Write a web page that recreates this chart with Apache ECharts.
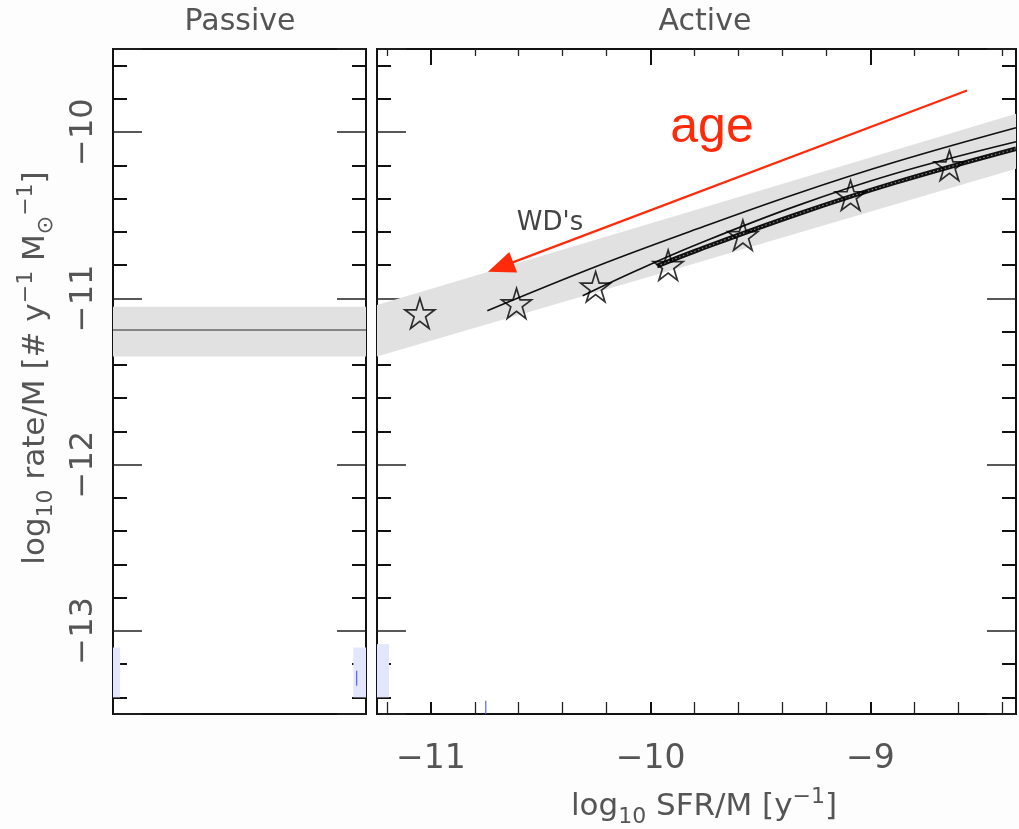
<!DOCTYPE html>
<html>
<head>
<meta charset="utf-8">
<script src="https://cdn.jsdelivr.net/npm/echarts@6/dist/echarts.min.js"></script>
<style>
  html, body { margin: 0; padding: 0; background: #fdfdfd; }
  #chart { width: 1019px; height: 829px; }
</style>
</head>
<body>
<div id="chart"></div>
<script>
// ---------------- data ----------------
const panelTitles = ['Passive', 'Active'];
const xTickValues = [-11, -10, -9];
const yTickValues = [-13, -12, -11, -10];

// passive galaxies: constant rate per unit mass with its spread
const passiveRate = -11.19;
const passiveLow = -11.35;
const passiveHigh = -11.05;

// active galaxies: shaded spread of the relation
const bandX    = [-11.245, -9.8, -8.337];
const bandLow  = [-11.35, -10.79, -10.22];
const bandHigh = [-11.04, -10.47, -9.89];

// star markers
const starX = [-11.05, -10.61, -10.25, -9.92, -9.58, -9.09, -8.64];
const starY = [-11.09, -11.03, -10.93, -10.80, -10.62, -10.38, -10.20];

// model tracks
const curveAX = [-10.743, -10.242, -9.790, -9.339, -8.887, -8.337];
const curveAY = [-11.074, -10.805, -10.583, -10.372, -10.180, -9.974];
const curveBX = [-10.309, -10.061, -9.790, -9.339, -8.887, -8.337];
const curveBY = [-10.984, -10.831, -10.676, -10.445, -10.249, -10.058];
const curveCX = [-9.971, -9.790, -9.339, -8.887, -8.337];
const curveCY = [-10.806, -10.712, -10.497, -10.304, -10.100];

// "age" arrow, tail -> head
const arrowFrom = [-8.56, -9.75];
const arrowTo   = [-10.74, -10.84];

// faint blue patches near the bottom of both panels [x0, x1, y0, y1]
const passivePatches = [[0, 0.028, -13.40, -13.10], [0.95, 1, -13.40, -13.10]];
const activePatches  = [[-11.245, -11.19, -13.40, -13.08]];
// short blue marks [x, y0, y1]
const passiveBlueMarks = [[0.963, -13.33, -13.24]];
const activeBlueMarks  = [[-10.75, -13.5, -13.42]];

// ---------------- helpers ----------------
const FONT = 'DejaVu Sans';
const TXT = '#555';
const RED = '#ff2a0a';
const BLUE_FILL = '#e3e6fc';
const STAR = 'path://M50,0 L61.23,34.55 L97.55,34.55 L68.16,55.9 L79.39,90.45 L50,69.1 L20.61,90.45 L31.84,55.9 L2.45,34.55 L38.77,34.55 Z';

const zip = (xs, ys) => xs.map((x, i) => [x, ys[i]]);

function bandRender(xs, lo, hi, color) {
  return function (params, api) {
    const pts = [];
    for (let i = 0; i < xs.length; i++) pts.push(api.coord([xs[i], hi[i]]));
    for (let i = xs.length - 1; i >= 0; i--) pts.push(api.coord([xs[i], lo[i]]));
    return { type: 'polygon', shape: { points: pts }, style: { fill: color } };
  };
}

function patchRender(list) {
  return function (params, api) {
    const r = list[params.dataIndex];
    const a = api.coord([r[0], r[3]]);
    const b = api.coord([r[1], r[2]]);
    return { type: 'rect', shape: { x: a[0], y: a[1], width: b[0] - a[0], height: b[1] - a[1] },
             style: { fill: BLUE_FILL } };
  };
}

function markRender(list) {
  return function (params, api) {
    const r = list[params.dataIndex];
    const a = api.coord([r[0], r[1]]);
    const b = api.coord([r[0], r[2]]);
    return { type: 'line', shape: { x1: a[0], y1: a[1], x2: b[0], y2: b[1] },
             style: { stroke: '#5566ee', lineWidth: 1.2 } };
  };
}

function arrowRender(params, api) {
  const p0 = api.coord(arrowFrom), p1 = api.coord(arrowTo);
  const dx = p1[0] - p0[0], dy = p1[1] - p0[1];
  const L = Math.hypot(dx, dy), ux = dx / L, uy = dy / L;
  const hl = 27, hw = 11;
  const bx = p1[0] - ux * hl, by = p1[1] - uy * hl;
  return {
    type: 'group',
    children: [
      { type: 'line', shape: { x1: p0[0], y1: p0[1], x2: bx + ux * 4, y2: by + uy * 4 },
        style: { stroke: RED, lineWidth: 2.2 } },
      { type: 'polygon',
        shape: { points: [[p1[0], p1[1]], [bx - uy * hw, by + ux * hw], [bx + uy * hw, by - ux * hw]] },
        style: { fill: RED } }
    ]
  };
}

const tickFmt = list => v => (list.some(t => Math.abs(t - v) < 1e-6) ? '\u2212' + Math.abs(v) : '');

function yAxisDef(grid, pos, withLabels) {
  return {
    type: 'value', gridIndex: grid, position: pos,
    min: -13.5, max: -9.5, minInterval: 1, maxInterval: 1,
    axisLine: { show: false },
    splitLine: { show: false },
    axisTick: { show: true, inside: true, length: 29, lineStyle: { color: '#222', width: 1.5 } },
    minorTick: { show: true, splitNumber: 5, length: 14, lineStyle: { color: '#111', width: 2 } },
    axisLabel: withLabels ? {
      show: true, rotate: 90, margin: 13, formatter: tickFmt(yTickValues),
      fontFamily: FONT, fontSize: 32, color: TXT
    } : { show: false }
  };
}

function xAxisActive(pos, withLabels) {
  return {
    type: 'value', gridIndex: 1, position: pos,
    min: -11.245, max: -8.337, minInterval: 1, maxInterval: 1,
    axisLine: { show: false },
    splitLine: { show: false },
    axisTick: { show: true, inside: true, length: pos === 'top' ? 16 : 12, lineStyle: { color: '#111', width: 2 } },
    minorTick: { show: true, splitNumber: 5, length: pos === 'top' ? 7 : 12, lineStyle: { color: '#222', width: 1.3 } },
    axisLabel: withLabels ? {
      show: true, margin: 29, formatter: tickFmt(xTickValues),
      fontFamily: FONT, fontSize: 33, color: TXT
    } : { show: false }
  };
}

const richTitle = {
  m: { fontFamily: FONT, fontSize: 31, color: TXT, lineHeight: 42, verticalAlign: 'middle' },
  s: { fontFamily: FONT, fontSize: 22, color: TXT, lineHeight: 42, verticalAlign: 'bottom' },
  p: { fontFamily: FONT, fontSize: 22, color: TXT, lineHeight: 42, verticalAlign: 'top' }
};

const chart = echarts.init(document.getElementById('chart'), null, { renderer: 'canvas' });

chart.setOption({
  backgroundColor: '#fdfdfd',
  animation: false,
  grid: [
    { left: 113, top: 49, width: 253, height: 665, show: true, backgroundColor: '#fff',
      borderColor: '#111', borderWidth: 2 },
    { left: 377, top: 49, width: 644, height: 665, show: true, backgroundColor: '#fff',
      borderColor: '#111', borderWidth: 2 }
  ],
  xAxis: [
    { type: 'value', gridIndex: 0, min: 0, max: 1, show: true,
      axisLine: { show: false }, axisTick: { show: false }, axisLabel: { show: false }, splitLine: { show: false } },
    xAxisActive('bottom', true),
    xAxisActive('top', false)
  ],
  yAxis: [
    yAxisDef(0, 'left', true),
    yAxisDef(0, 'right', false),
    yAxisDef(1, 'left', false),
    yAxisDef(1, 'right', false)
  ],
  graphic: [
    { type: 'text', style: { text: panelTitles[0], x: 240, y: 22,
      align: 'center', verticalAlign: 'middle', font: '30px "' + FONT + '"', fill: TXT } },
    { type: 'text', style: { text: panelTitles[1], x: 705, y: 22,
      align: 'center', verticalAlign: 'middle', font: '30px "' + FONT + '"', fill: TXT } },
    { type: 'text', x: 36, y: 368, rotation: Math.PI / 2,
      style: {
        text: '{m|log}{s|10}{m| rate/M [# y}{p|\u22121}{m| M}{s|\u2299}{p|\u22121}{m|]}',
        align: 'center', verticalAlign: 'middle', fill: TXT, rich: richTitle
      } },
    { type: 'text', x: 704, y: 807,
      style: {
        text: '{m|log}{s|10}{m| SFR/M [y}{p|\u22121}{m|]}',
        align: 'center', verticalAlign: 'middle', fill: TXT, rich: richTitle
      } },
    { type: 'text', z: 10, style: { text: "WD's", x: 550, y: 223, align: 'center', verticalAlign: 'middle',
      font: '26px "' + FONT + '"', fill: '#444' } },
    { type: 'text', z: 10, style: { text: 'age', x: 712, y: 128, align: 'center', verticalAlign: 'middle',
      font: '50px "Liberation Sans"', fill: RED } }
  ],
  series: [
    // passive panel
    { type: 'custom', xAxisIndex: 0, yAxisIndex: 0, z: 1,
      renderItem: bandRender([0, 1], [passiveLow, passiveLow], [passiveHigh, passiveHigh], '#e1e1e1'),
      data: [[0, passiveRate]] },
    { type: 'line', xAxisIndex: 0, yAxisIndex: 0, z: 2, showSymbol: false, silent: true,
      lineStyle: { color: '#666', width: 1.6 }, data: [[0, passiveRate], [1, passiveRate]] },
    { type: 'custom', xAxisIndex: 0, yAxisIndex: 0, z: 1, renderItem: patchRender(passivePatches),
      data: passivePatches.map(r => [r[0], r[2]]) },
    { type: 'custom', xAxisIndex: 0, yAxisIndex: 0, z: 2, renderItem: markRender(passiveBlueMarks),
      data: passiveBlueMarks.map(r => [r[0], r[1]]) },

    // active panel
    { type: 'custom', xAxisIndex: 1, yAxisIndex: 2, z: 1,
      renderItem: bandRender(bandX, bandLow, bandHigh, '#e1e1e1'),
      data: [[bandX[0], bandLow[0]]] },
    { type: 'custom', xAxisIndex: 1, yAxisIndex: 2, z: 1, renderItem: patchRender(activePatches),
      data: activePatches.map(r => [r[0], r[2]]) },
    { type: 'custom', xAxisIndex: 1, yAxisIndex: 2, z: 2, renderItem: markRender(activeBlueMarks),
      data: activeBlueMarks.map(r => [r[0], r[1]]) },
    { type: 'line', xAxisIndex: 1, yAxisIndex: 2, z: 3, smooth: 0.4, showSymbol: false, silent: true,
      lineStyle: { color: '#111', width: 1.7 }, data: zip(curveAX, curveAY) },
    { type: 'line', xAxisIndex: 1, yAxisIndex: 2, z: 3, smooth: 0.4, showSymbol: false, silent: true,
      lineStyle: { color: '#111', width: 1.7 }, data: zip(curveBX, curveBY) },
    { type: 'line', xAxisIndex: 1, yAxisIndex: 2, z: 3, smooth: 0.4, showSymbol: false, silent: true,
      lineStyle: { color: '#111', width: 4.6 }, data: zip(curveCX, curveCY) },
    { type: 'line', xAxisIndex: 1, yAxisIndex: 2, z: 4, smooth: 0.4, showSymbol: false, silent: true,
      lineStyle: { color: '#888', width: 1.1, type: [1.5, 2.5] }, data: zip(curveCX, curveCY) },
    { type: 'scatter', xAxisIndex: 1, yAxisIndex: 2, z: 5, silent: true,
      symbol: STAR, symbolSize: 30,
      itemStyle: { color: 'rgba(0,0,0,0)', borderColor: '#000', borderWidth: 1.7 },
      data: zip(starX, starY) },
    { type: 'custom', xAxisIndex: 1, yAxisIndex: 2, z: 6, renderItem: arrowRender,
      data: [arrowFrom] }
  ]
});
</script>
</body>
</html>
